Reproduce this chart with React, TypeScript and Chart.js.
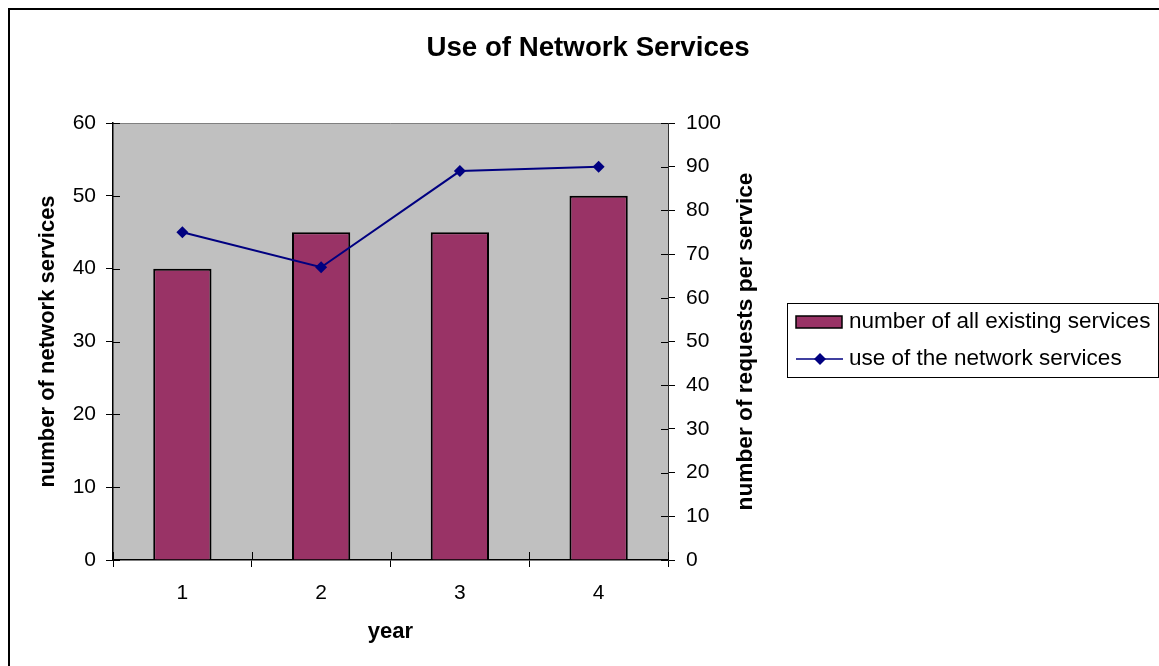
import React, { useEffect, useRef } from 'react';
import { Chart, registerables } from 'chart.js';

Chart.register(...registerables);

const FONT = '"Liberation Sans", Arial, sans-serif';

const categories = ['1', '2', '3', '4'];
const serviceCounts = [40, 45, 45, 50];
const requestsPerService = [75, 67, 89, 90];
const seriesLabels = ['number of all existing services', 'use of the network services'];
const chartTitle = 'Use of Network Services';
const xTitle = 'year';
const yLeftTitle = 'number of network services';
const yRightTitle = 'number of requests per service';
const leftMax = 60;
const rightMax = 100;
const tickStep = 10;

const BAR_COLOR = '#993366';
const LINE_COLOR = '#000080';

export default function App() {
  const ref = useRef<HTMLCanvasElement>(null);

  useEffect(() => {
    if (!ref.current) return;

    const decor = {
      id: 'decor',
      beforeDraw(chart: any) {
        const { ctx, chartArea: a } = chart;
        ctx.save();
        ctx.fillStyle = '#ffffff';
        ctx.fillRect(0, 0, chart.width, chart.height);
        ctx.fillStyle = '#C0C0C0';
        ctx.fillRect(a.left, a.top, a.right - a.left, a.bottom - a.top);
        ctx.strokeStyle = '#808080';
        ctx.lineWidth = 1;
        ctx.beginPath();
        ctx.moveTo(a.left, a.top + 0.5);
        ctx.lineTo(a.right, a.top + 0.5);
        ctx.stroke();
        ctx.restore();
      },
      afterDraw(chart: any) {
        const { ctx, chartArea: a } = chart;
        const sy = chart.scales.y;
        const sy1 = chart.scales.y1;
        const sx = chart.scales.x;
        ctx.save();
        ctx.strokeStyle = '#000';
        ctx.lineWidth = 1;
        ctx.beginPath();
        for (let v = 0; v <= leftMax; v += tickStep) {
          const p = Math.round(sy.getPixelForValue(v)) + 0.5;
          ctx.moveTo(a.left, p);
          ctx.lineTo(a.left + 7, p);
        }
        for (let v = 0; v <= rightMax; v += tickStep) {
          const p = Math.round(sy1.getPixelForValue(v)) + 0.5;
          ctx.moveTo(a.right - 7, p);
          ctx.lineTo(a.right, p);
        }
        for (let i = 0; i <= categories.length; i++) {
          const p = Math.round(sx.getPixelForValue(i - 0.5)) + 0.5;
          ctx.moveTo(p, a.bottom - 8);
          ctx.lineTo(p, a.bottom);
        }
        ctx.stroke();

        // outer chart border
        ctx.fillStyle = '#000';
        ctx.fillRect(8, 8, chart.width, 2);
        ctx.fillRect(8, 8, 2, chart.height);

        // titles
        ctx.fillStyle = '#000';
        ctx.textAlign = 'center';
        ctx.textBaseline = 'middle';
        ctx.font = `bold 27.7px ${FONT}`;
        ctx.fillText(chartTitle, 588, 48);

        ctx.font = `bold 22px ${FONT}`;
        ctx.fillText(xTitle, (a.left + a.right) / 2, 632);

        const midY = (a.top + a.bottom) / 2;
        ctx.save();
        ctx.translate(48, midY);
        ctx.rotate(-Math.PI / 2);
        ctx.fillText(yLeftTitle, 0, 0);
        ctx.restore();

        ctx.font = `bold 22.7px ${FONT}`;
        ctx.save();
        ctx.translate(746, midY);
        ctx.rotate(-Math.PI / 2);
        ctx.fillText(yRightTitle, 0, 0);
        ctx.restore();

        // legend
        const ds = chart.data.datasets;
        const barDs = ds.find((d: any) => d.type === 'bar');
        const lineDs = ds.find((d: any) => d.type === 'line');
        const lx = 787.5, ly = 303.5, lw = 371, lh = 74;
        ctx.strokeStyle = '#000';
        ctx.lineWidth = 1;
        ctx.strokeRect(lx, ly, lw, lh);
        ctx.font = `22.5px ${FONT}`;
        ctx.textAlign = 'left';
        ctx.textBaseline = 'middle';
        ctx.fillStyle = barDs.backgroundColor;
        ctx.fillRect(796, 316, 46, 12);
        ctx.strokeStyle = '#000';
        ctx.lineWidth = 1.5;
        ctx.strokeRect(796, 316, 46, 12);
        ctx.fillStyle = '#000';
        ctx.fillText(barDs.label, 849, 322);
        ctx.strokeStyle = lineDs.borderColor;
        ctx.lineWidth = 1.5;
        ctx.beginPath();
        ctx.moveTo(796, 359);
        ctx.lineTo(843, 359);
        ctx.stroke();
        ctx.fillStyle = lineDs.borderColor;
        ctx.beginPath();
        ctx.moveTo(820, 353);
        ctx.lineTo(826, 359);
        ctx.lineTo(820, 365);
        ctx.lineTo(814, 359);
        ctx.closePath();
        ctx.fill();
        ctx.fillStyle = '#000';
        ctx.fillText(lineDs.label, 849, 359);
        ctx.restore();
      },
    };

    const tickFont = { family: FONT, size: 21 };

    const chart = new Chart(ref.current, {
      type: 'bar',
      data: {
        labels: categories,
        datasets: [
          {
            type: 'line',
            label: seriesLabels[1],
            data: requestsPerService,
            yAxisID: 'y1',
            borderColor: LINE_COLOR,
            backgroundColor: LINE_COLOR,
            borderWidth: 2,
            pointStyle: 'rectRot',
            pointRadius: 6,
            pointBackgroundColor: LINE_COLOR,
            pointBorderColor: LINE_COLOR,
            pointBorderWidth: 0,
            tension: 0,
            order: 0,
          } as any,
          {
            type: 'bar',
            label: seriesLabels[0],
            data: serviceCounts,
            yAxisID: 'y',
            backgroundColor: BAR_COLOR,
            borderColor: '#000',
            borderWidth: 2,
            categoryPercentage: 1,
            barPercentage: 0.42,
            order: 1,
          },
        ],
      },
      options: {
        animation: false,
        responsive: false,
        maintainAspectRatio: false,
        devicePixelRatio: 1,
        layout: { padding: { left: 0, top: 123, right: 391, bottom: 0 } },
        plugins: {
          legend: { display: false },
          title: { display: false },
          tooltip: { enabled: false },
        },
        scales: {
          x: {
            offset: true,
            grid: {
              offset: true,
              drawOnChartArea: false,
              drawTicks: true,
              tickLength: 7,
              color: '#000',
            },
            border: { display: true, color: '#000', width: 1.5 },
            ticks: { font: tickFont, color: '#000', padding: 14 },
            afterFit: (s: any) => { s.height = 106; },
          },
          y: {
            position: 'left',
            min: 0,
            max: leftMax,
            grid: { drawOnChartArea: false, tickLength: 7, color: '#000' },
            border: { display: true, color: '#000', width: 1.5 },
            ticks: { stepSize: tickStep, font: tickFont, color: '#000', padding: 10 },
            afterFit: (s: any) => { s.width = 113; },
          },
          y1: {
            position: 'right',
            min: 0,
            max: rightMax,
            grid: { drawOnChartArea: false, tickLength: 7, color: '#000' },
            border: { display: true, color: '#333', width: 1 },
            ticks: { stepSize: tickStep, font: tickFont, color: '#000', padding: 11 },
            afterFit: (s: any) => { s.width = 100; },
          },
        },
      },
      plugins: [decor],
    });

    return () => chart.destroy();
  }, []);

  return (
    <div style={{ position: 'absolute', left: 0, top: 0, width: 1159, height: 666, background: '#fff' }}>
      <canvas ref={ref} width={1159} height={666} style={{ display: 'block' }} />
    </div>
  );
}
